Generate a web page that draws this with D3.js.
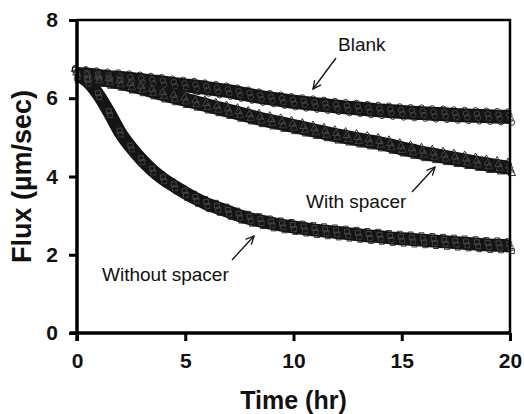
<!DOCTYPE html>
<html>
<head>
<meta charset="utf-8">
<script src="https://cdn.jsdelivr.net/npm/d3@7"></script>
<style>
  body { margin: 0; background: #fff; }
  svg text { font-family: Arial, "Liberation Sans", sans-serif; fill: #111; }
  .axis .domain { display: none; }
  .axis line { stroke: #000; stroke-width: 3; }
  .axis text { font-size: 21px; font-weight: bold; }
</style>
</head>
<body>
<div id="chart"></div>
<script>
// time (hr) every half hour, flux (um/sec)
var timeHr = [0,0.5,1,1.5,2,2.5,3,3.5,4,4.5,5,5.5,6,6.5,7,7.5,8,8.5,9,9.5,10,
  10.5,11,11.5,12,12.5,13,13.5,14,14.5,15,15.5,16,16.5,17,17.5,18,18.5,19,19.5,20];
var blankFlux = [6.62,6.6,6.57,6.54,6.52,6.49,6.46,6.43,6.4,6.36,6.33,6.3,6.26,6.22,6.18,6.13,6.08,6.03,5.99,5.95,5.91,
  5.88,5.85,5.82,5.79,5.76,5.74,5.71,5.69,5.67,5.65,5.63,5.62,5.6,5.59,5.57,5.56,5.55,5.54,5.53,5.52];
var withSpacerFlux = [6.6,6.55,6.5,6.45,6.4,6.33,6.26,6.18,6.1,6.03,5.96,5.89,5.82,5.75,5.68,5.61,5.54,5.47,5.41,5.35,5.29,
  5.23,5.17,5.11,5.05,5.0,4.95,4.9,4.85,4.79,4.72,4.66,4.6,4.55,4.5,4.45,4.4,4.35,4.3,4.26,4.22];
var withoutSpacerFlux = [6.6,6.42,6.08,5.62,5.12,4.74,4.42,4.15,3.93,3.75,3.58,3.43,3.3,3.2,3.1,3.0,2.92,2.86,2.8,2.75,2.71,
  2.67,2.63,2.6,2.57,2.54,2.51,2.48,2.46,2.43,2.41,2.39,2.37,2.35,2.33,2.31,2.29,2.27,2.25,2.24,2.22];
var xTicks = [0,5,10,15,20];
var yTicks = [0,2,4,6,8];

var margin = {top: 20, right: 14, bottom: 81, left: 77},
    width = 524 - margin.left - margin.right,
    height = 414 - margin.top - margin.bottom;

var svg = d3.select("#chart").append("svg")
    .attr("width", 524)
    .attr("height", 414)
  .append("g")
    .attr("transform", "translate(" + margin.left + "," + margin.top + ")");

var x = d3.scaleLinear().domain([0, 20]).range([0, width]);
var y = d3.scaleLinear().domain([0, 8]).range([height, 0]);

var seriesList = [
  {name: "blank", vals: blankFlux, shape: d3.symbolCircle, band: 14},
  {name: "with", vals: withSpacerFlux, shape: d3.symbolTriangle, band: 14},
  {name: "without", vals: withoutSpacerFlux, shape: d3.symbolSquare, band: 13}
];

var line = d3.line().curve(d3.curveMonotoneX);

seriesList.forEach(function(s){
  var pts = timeHr.map(function(t, i){ return [x(t), y(s.vals[i])]; });
  svg.append("path")
    .attr("d", line(pts))
    .attr("fill", "none")
    .attr("stroke", "#141414")
    .attr("stroke-width", s.band)
    .attr("stroke-linecap", "butt");
});

// open symbols on the band for the scatter texture
seriesList.forEach(function(s){
  var sym = d3.symbol().type(s.shape).size(24);
  [-s.band/2 + 1.5, -2, 2, s.band/2 - 1.5].forEach(function(off, k){
    svg.append("g").selectAll("path")
      .data(timeHr)
      .enter().append("path")
      .attr("d", sym)
      .attr("transform", function(t, i){
        return "translate(" + (x(t) + k * 1.3 - 2) + "," + (y(s.vals[i]) + off) + ")";
      })
      .attr("fill", "none")
      .attr("stroke", (k == 1 || k == 2) ? "#4a4a4a" : "#1a1a1a")
      .attr("stroke-width", 0.9);
  });
});

// frame
svg.append("path")
  .attr("d", "M0," + y(8) + "H" + x(20) + "V" + y(0))
  .attr("fill", "none")
  .attr("stroke", "#000")
  .attr("stroke-width", 2.5);

svg.append("g")
  .attr("class", "axis")
  .attr("transform", "translate(0," + height + ")")
  .call(d3.axisBottom(x).tickValues(xTicks).tickSize(8).tickPadding(12));

svg.append("g")
  .attr("class", "axis")
  .call(d3.axisLeft(y).tickValues(yTicks).tickSize(8).tickPadding(11));

svg.append("line")
  .attr("x1", -7).attr("x2", x(20) + 1)
  .attr("y1", height).attr("y2", height)
  .attr("stroke", "#000").attr("stroke-width", 3.5);
svg.append("line")
  .attr("x1", 0).attr("x2", 0)
  .attr("y1", y(8) - 1).attr("y2", height + 8)
  .attr("stroke", "#000").attr("stroke-width", 3.5);

svg.append("text")
  .attr("x", x(10))
  .attr("y", height + 76)
  .attr("text-anchor", "middle")
  .style("font-size", "25px")
  .style("font-weight", "bold")
  .text("Time (hr)");

svg.append("text")
  .attr("transform", "translate(-46," + y(4) + ") rotate(-90)")
  .attr("text-anchor", "middle")
  .style("font-size", "27px")
  .style("font-weight", "bold")
  .text("Flux (\u00b5m/sec)");

// annotations
var notes = [
  {label: "Blank", tx: 338, ty: 51, ax1: 336, ay1: 58, ax2: 313, ay2: 89},
  {label: "With spacer", tx: 306, ty: 208, ax1: 412, ay1: 192, ax2: 435, ay2: 167},
  {label: "Without spacer", tx: 102, ty: 281, ax1: 232, ay1: 260, ax2: 254, ay2: 236}
];
var ann = d3.select("svg").append("g");
notes.forEach(function(n){
  ann.append("text")
    .attr("x", n.tx).attr("y", n.ty)
    .style("font-size", "19px")
    .text(n.label);
  ann.append("line")
    .attr("x1", n.ax1).attr("y1", n.ay1)
    .attr("x2", n.ax2).attr("y2", n.ay2)
    .attr("stroke", "#111").attr("stroke-width", 1.3);
  var ang = Math.atan2(n.ay2 - n.ay1, n.ax2 - n.ax1);
  var hl = 9, spread = 0.45;
  ann.append("path")
    .attr("d", "M" + (n.ax2 - hl * Math.cos(ang - spread)) + "," + (n.ay2 - hl * Math.sin(ang - spread)) +
      "L" + n.ax2 + "," + n.ay2 +
      "L" + (n.ax2 - hl * Math.cos(ang + spread)) + "," + (n.ay2 - hl * Math.sin(ang + spread)))
    .attr("fill", "none")
    .attr("stroke", "#111").attr("stroke-width", 1.3);
});
</script>
</body>
</html>
